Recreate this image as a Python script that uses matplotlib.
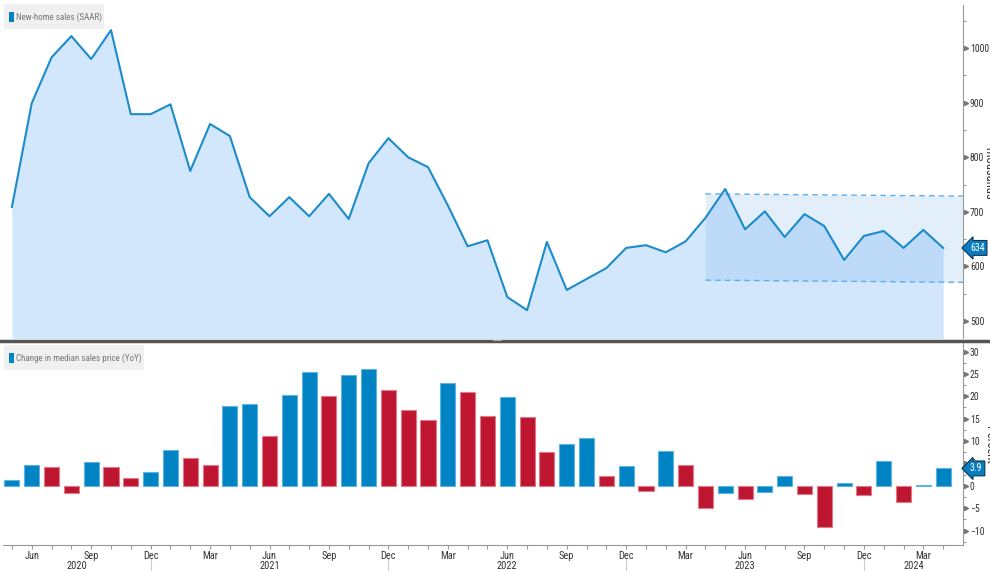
import matplotlib
matplotlib.use("Agg")
import matplotlib.pyplot as plt
import matplotlib.transforms as mtransforms
from matplotlib.lines import Line2D
from matplotlib.patches import Rectangle
from matplotlib.ticker import MultipleLocator, FixedLocator
import numpy as np
import pandas as pd

plt.rcParams['font.family'] = ['Roboto Condensed', 'Liberation Sans Narrow', 'DejaVu Sans']

# monthly data, May 2020 .. Apr 2024
months = pd.date_range('2020-05-01', periods=48, freq='MS')

sales = [709, 899, 983, 1022, 980, 1033, 879, 879,
         897, 775, 861, 839, 727, 692, 727, 692, 733, 687, 789, 835,
         800, 782, 712, 637, 648, 544, 520, 645, 557, 577, 597, 634,
         639, 626, 646, 689, 742, 668, 701, 654, 696, 674, 612, 656,
         665, 634, 667, 634]

price_yoy = [1.3, 4.7, 4.2, -1.6, 5.4, 4.2, 1.8, 3.1,
             8.0, 6.2, 4.7, 17.9, 18.3, 11.2, 20.3, 25.4, 20.1, 24.8, 26.1, 21.4,
             17.0, 14.7, 23.0, 21.0, 15.6, 19.9, 15.4, 7.6, 9.4, 10.7, 2.2, 4.5,
             -1.1, 7.8, 4.7, -4.9, -1.6, -2.9, -1.3, 2.2, -1.8, -9.1, 0.7, -2.0,
             5.6, -3.6, 0.2, 3.9]

# range band drawn on the sales panel
band_start = '2023-04-01'
band_top = [733, 729]
band_bottom = [575, 571]

BLUE = '#0083C2'
RED = '#BE1630'
LINE = '#1B8BCB'
FILL = '#D2E7FB'
TXT = '#333333'

W, H = 990, 571
fig = plt.figure(figsize=(W / 100, H / 100), dpi=100)

x = np.arange(len(months))
xmin, xmax = -0.45, 48.0

ax1 = fig.add_axes([3 / W, 1 - 338 / H, 960 / W, 333 / H])
ax2 = fig.add_axes([3 / W, 1 - 545 / H, 960 / W, 202 / H])

# ---- top panel: new-home sales
ax1.fill_between(x, sales, 0, color=FILL, lw=0, zorder=1)
ax1.plot(x, sales, color=LINE, lw=1.5, zorder=4)
bi = list(months).index(pd.Timestamp(band_start))
bx = [bi, xmax]
ax1.fill_between(bx, band_bottom, band_top, color='#66ABEF', alpha=0.19, lw=0, zorder=2)
ax1.plot(bx, band_top, color='#5BAEF2', lw=1, dashes=(4, 3), zorder=3)
ax1.plot(bx, band_bottom, color='#5BAEF2', lw=1, dashes=(4, 3), zorder=3)
ax1.set_ylim(469, 1079)

# ---- bottom panel: price change
cols = [BLUE] + [BLUE if d > 0 else RED for d in np.diff(price_yoy)]
edges = ['#5FB3E3' if c == BLUE else '#E27A8B' for c in cols]
ax2.bar(x, price_yoy, width=0.76, color=cols, edgecolor=edges, lw=0.8)
ax2.set_ylim(-13.2, 31.9)

for ax, major, minor in [(ax1, 100, 50), (ax2, 5, 2.5)]:
    ax.set_xlim(xmin, xmax)
    for s in ['top', 'left', 'bottom']:
        ax.spines[s].set_visible(False)
    ax.spines['right'].set_color('#999999')
    ax.yaxis.tick_right()
    ax.yaxis.set_major_locator(MultipleLocator(major))
    ax.yaxis.set_minor_locator(MultipleLocator(minor))
    ax.tick_params(axis='y', which='major', length=0, pad=5, labelsize=7, labelcolor=TXT)
    ax.tick_params(axis='y', which='minor', length=2.5, color='#999999', width=0.8)
    lo, hi = ax.get_ylim()
    ticks = [t for t in ax.get_yticks() if lo <= t <= hi]
    tr = mtransforms.offset_copy(ax.get_yaxis_transform(), fig=fig, x=3, y=0, units='dots')
    ax.plot([1] * len(ticks), ticks, ls='none', marker='>', ms=3, color='#777777',
            transform=tr, clip_on=False)

ax1.set_xticks([])

# x axis of the bottom panel
ax2.spines['bottom'].set_visible(True)
ax2.spines['bottom'].set_color('#999999')
ax2.xaxis.set_minor_locator(FixedLocator(x))
qi = [i for i, m in enumerate(months) if m.month in (3, 6, 9, 12)]
ax2.set_xticks(qi)
ax2.set_xticklabels([months[i].strftime('%b') for i in qi])
ax2.tick_params(axis='x', which='both', length=3, color='#999999', width=0.8,
                labelsize=7.5, labelcolor=TXT, pad=1)

# year labels and separators
decs = [i for i, m in enumerate(months) if m.month == 12]
bounds = [xmin] + decs + [xmax]
years = sorted(set(m.year for m in months))
xt = ax2.get_xaxis_transform()
for yr, a, b in zip(years, bounds[:-1], bounds[1:]):
    ax2.text((a + b) / 2, -21 / 202, str(yr), transform=xt,
             ha='center', va='center', fontsize=7.5, color=TXT)
for d in decs:
    ax2.plot([d, d], [-14 / 202, -26 / 202], transform=xt,
             color='#cccccc', lw=0.8, clip_on=False)

# legends
for label, ytop, wpx in [('New-home sales (SAAR)', 4, 100), ('Change in median sales price (YoY)', 345, 140)]:
    fig.add_artist(Rectangle((4 / W, 1 - (ytop + 25) / H), wpx / W, 25 / H,
                             transform=fig.transFigure, color='#F0F0F0', lw=0))
    fig.add_artist(Rectangle((9 / W, 1 - (ytop + 18) / H), 5 / W, 10 / H,
                             transform=fig.transFigure, color=BLUE, lw=0))
    fig.text(16 / W, 1 - (ytop + 13) / H, label, fontsize=6.5, color='#777777', va='center')

# right axis labels (cut at figure edge)
fig.text(983 / W, 1 - 172 / H, 'Thousands', rotation=270, fontsize=9, color=TXT,
         ha='left', va='center')
fig.text(983 / W, 1 - 445 / H, 'Percent', rotation=270, fontsize=9, color=TXT,
         ha='left', va='center')

# last value tags
for ax, val in [(ax1, sales[-1]), (ax2, price_yoy[-1])]:
    tr = mtransforms.offset_copy(ax.get_yaxis_transform(), fig=fig, x=7, y=0, units='dots')
    ax.text(1, val, f'{val}', transform=tr, ha='left', va='center', fontsize=7, color='white',
            bbox=dict(boxstyle='larrow,pad=0.25', fc='#0A7DC0', ec='#0B3550', lw=0.8),
            clip_on=False, zorder=10)

# panel divider
fig.add_artist(Line2D([0, 1], [1 - 340.5 / H] * 2, transform=fig.transFigure, color='#555555', lw=2.5))
fig.add_artist(Line2D([493 / W, 501 / W], [1 - 340 / H] * 2, transform=fig.transFigure, color='#bbbbbb', lw=0.6))

fig.savefig('out.png', dpi=100)
